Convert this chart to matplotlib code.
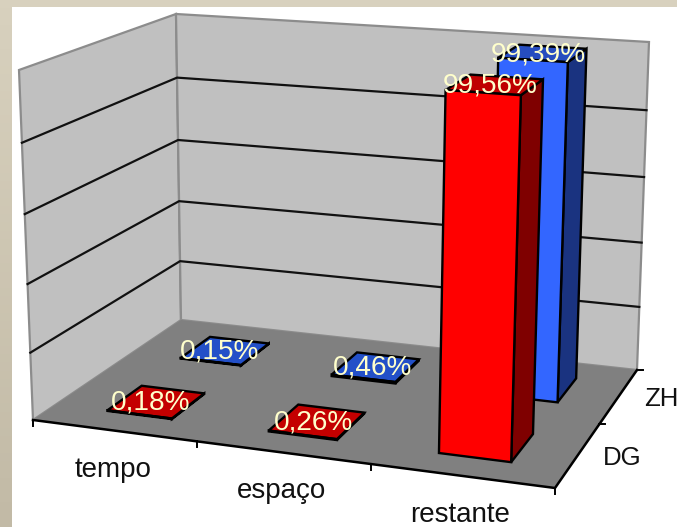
import numpy as np
import matplotlib
matplotlib.use("Agg")
import matplotlib.pyplot as plt
from matplotlib.patches import Polygon

categories = ["tempo", "espaço", "restante"]
series_names = ["DG", "ZH"]
dg_values = [0.18, 0.26, 99.56]
zh_values = [0.15, 0.46, 99.39]
dg_labels = ["0,18%", "0,26%", "99,56%"]
zh_labels = ["0,15%", "0,46%", "99,39%"]
z_ticks = [0, 20, 40, 60, 80, 100]

# Chart box corners on screen (layout of the perspective view)
FLOOR = [(33, 420), (555, 488), (637, 370), (181, 320)]
TOP = [(19, 70), (567, 108), (649, 42), (176, 14)]
BAR_W, BAR_D = 0.40, 0.45
BAR_SHIFT = [0.025, 0.01, -0.008]
Z_PERSPECTIVE = 0.05


def homography(dst):
    src = [(0, 0), (1, 0), (1, 1), (0, 1)]
    A, b = [], []
    for (u, v), (X, Y) in zip(src, dst):
        A.append([u, v, 1, 0, 0, 0, -u * X, -v * X]); b.append(X)
        A.append([0, 0, 0, u, v, 1, -u * Y, -v * Y]); b.append(Y)
    return np.append(np.linalg.solve(np.array(A, float), np.array(b, float)), 1).reshape(3, 3)


HF, HT = homography(FLOOR), homography(TOP)


def project(x, y, z):
    """x in categories (0..3), y in series (0..2), z in percent (0..100)."""
    p = np.array([x / len(categories), y / len(series_names), 1.0])
    f, t = HF @ p, HT @ p
    f, t = f[:2] / f[2], t[:2] / t[2]
    s = z / z_ticks[-1]
    s = s / (1 + Z_PERSPECTIVE * (1 - s))
    return tuple(f + (t - f) * s)


fig = plt.figure(figsize=(6.77, 5.27), dpi=100, facecolor="white")
ax = fig.add_axes([0, 0, 1, 1])
ax.set_axis_off()

# Slide background
grad = np.linspace(0, 1, 64)[:, None, None]
c0, c1 = np.array([216, 209, 190]) / 255, np.array([194, 186, 166]) / 255
ax.imshow(c0 + (c1 - c0) * grad, extent=(0, 12, 527, 0), aspect="auto", zorder=0)
ax.add_patch(Polygon([(0, 0), (677, 0), (677, 7), (0, 7)], fc="#D8D1BE", ec="none", zorder=0))
ax.set_xlim(0, 677)
ax.set_ylim(527, 0)


def face(pts, fc, ec="black", lw=1.7, z=2):
    ax.add_patch(Polygon(pts, closed=True, fc=fc, ec=ec, lw=lw, joinstyle="miter", zorder=z))


nx, ny, top = len(categories), len(series_names), z_ticks[-1]
face([project(0, 0, 0), project(0, ny, 0), project(0, ny, top), project(0, 0, top)], "#C0C0C0", "#8C8C8C", 1.6)
face([project(0, ny, 0), project(nx, ny, 0), project(nx, ny, top), project(0, ny, top)], "#C0C0C0", "#8C8C8C", 1.6)
face([project(0, 0, 0), project(nx, 0, 0), project(nx, ny, 0), project(0, ny, 0)], "#808080", "none", 0)

for zt in z_ticks[1:-1]:
    pts = [project(0, 0, zt), project(0, ny, zt), project(nx, ny, zt)]
    ax.plot(*zip(*pts), color="#111111", lw=1.6, zorder=3)

# Axis lines and ticks
ax.plot(*zip(project(0, 0, 0), project(nx, 0, 0), project(nx, ny, 0)), color="black", lw=1.8, zorder=4)
for i in range(nx + 1):
    a = project(i, 0, 0)
    ax.plot([a[0], a[0]], [a[1], a[1] + 6], color="black", lw=1.4, zorder=4)
for j in range(1, ny + 1):
    a = project(nx, j, 0)
    ax.plot([a[0], a[0] + 6], [a[1], a[1]], color="black", lw=1.4, zorder=4)

COLORS = [("#FF0000", "#7F0000", "#BF0000"), ("#3366FF", "#1A3380", "#264DBF")]
FLAT = ["#C40000", "#2350C8"]
FLAT_FRONT = ["#000000", "#000000"]
values = [dg_values, zh_values]
labels = [dg_labels, zh_labels]
z = 5
for j in reversed(range(ny)):
    for i in range(nx):
        v = values[j][i]
        xc = i + 0.5 + BAR_SHIFT[i]
        x0, x1 = xc - BAR_W / 2, xc + BAR_W / 2
        y0, y1 = j + 0.5 - BAR_D / 2, j + 0.5 + BAR_D / 2
        front, side, tp = COLORS[j]
        if v < 5:
            tp, front = FLAT[j], FLAT_FRONT[j]
        face([project(x1, y0, 0), project(x1, y1, 0), project(x1, y1, v), project(x1, y0, v)], side, z=z)
        face([project(x0, y0, v), project(x1, y0, v), project(x1, y1, v), project(x0, y1, v)], tp, z=z)
        face([project(x0, y0, 0), project(x1, y0, 0), project(x1, y0, v), project(x0, y0, v)], front, z=z)
        z += 1

# Value labels sit on the tops of the bars
for j in range(ny):
    for i in range(nx):
        v = values[j][i]
        px, py = project(i + 0.5, j + 0.5, v)
        ax.text(px - (6 if v > 50 else 2), py + 1, labels[j][i], color="#FFFFCC", fontsize=20.2,
                family="Liberation Sans", ha="center", va="center", zorder=30)

# Category and series labels
for i, c in enumerate(categories):
    px, py = project(i + 0.5, 0, 0)
    ax.text(px - 1, py + 39, c, color="#111111", fontsize=20, family="Liberation Sans",
            ha="center", va="center", zorder=30)
for j, s in enumerate(series_names):
    px, py = project(nx, j + 0.5, 0)
    ax.text(px + 25, py + 3, s, color="#111111", fontsize=18.6, family="Liberation Sans",
            ha="left", va="center", zorder=30)

fig.savefig("out.png", dpi=100)
